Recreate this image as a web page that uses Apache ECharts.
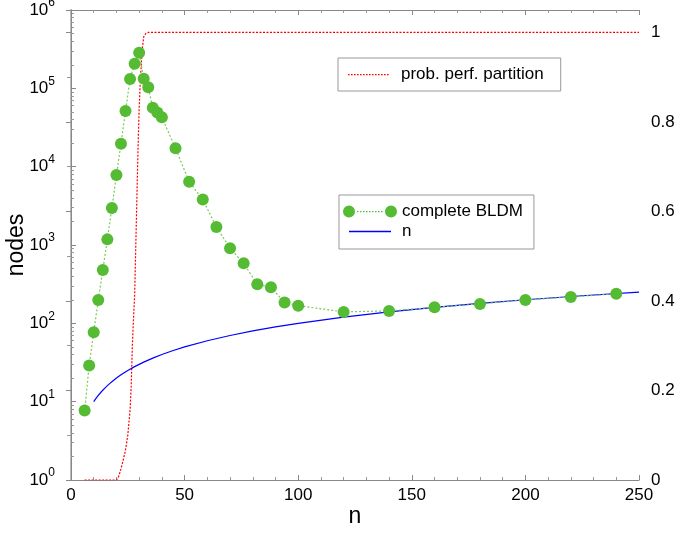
<!DOCTYPE html>
<html><head><meta charset="utf-8">
<script src="https://cdn.jsdelivr.net/npm/echarts@6/dist/echarts.min.js"></script>
<style>html,body{margin:0;padding:0;background:#fff}#c{width:676px;height:544px}</style>
</head><body><div id="c"></div>
<script>
// complete BLDM: n and node counts
const bldmN = [6,8,10,12,14,16,18,20,22,24,26,28,30,32,34,36,38,40,46,52,58,64,70,76,82,88,94,100,120,140,160,180,200,220,240];
const bldmNodes = [7.7,29,77,198,480,1180,2960,7830,19600,51500,132000,206000,285000,133000,103000,56600,49000,42700,17200,6430,3800,1700,908,584,315,288,185,168,140,144,160,177,199,217,239];
// reference line "n"
const lineN = [10,11,12,13,14,15,16,17,18,20,22,25,28,32,36,40,45,50,60,70,80,90,100,120,140,160,180,200,225,250];
const lineNodes = [10,11,12,13,14,15,16,17,18,20,22,25,28,32,36,40,45,50,60,70,80,90,100,120,140,160,180,200,225,250];
// probability of perfect partition (right axis)
const probN = [6,8,10,12,14,16,18,20,21,22,23,24,25,26,26.5,27,27.5,28,28.5,29,29.5,30,30.5,31,31.5,32,33,34,50,100,150,200,250];
const probP = [0,0,0,0,0,0,0,0,0.008,0.025,0.045,0.067,0.1,0.156,0.21,0.3,0.36,0.41,0.52,0.63,0.74,0.83,0.89,0.935,0.968,0.99,0.998,1,1,1,1,1,1];
// tick labels
const xTicks = [0,50,100,150,200,250];
const rightTicks = [0,0.2,0.4,0.6,0.8,1];

const FONT = "'Liberation Sans', Arial, Helvetica, sans-serif";

function dashPath(x0, x1, y, w, gap) {
  let s = '';
  for (let x = x0; x + w <= x1 + 0.01; x += w + gap) {
    s += 'M' + x + ',' + (y - 0.5) + 'h' + w + 'v1.2h-' + w + 'z';
  }
  return s;
}
const iconRed = 'path://M0,0M42,12' + dashPath(0, 42, 6, 1.6, 1.4);
const iconGreen = 'path://M0,6a6,6 0 1,0 12,0a6,6 0 1,0 -12,0z M42,6a6,6 0 1,0 12,0a6,6 0 1,0 -12,0z' + dashPath(14, 40, 6, 1.5, 1.5);
const iconBlue = 'path://M0,0M54,12M6,5.3h42v1.4h-42z';

const chart = echarts.init(document.getElementById('c'), null, {renderer: 'canvas'});
chart.setOption({
  animation: false,
  backgroundColor: '#fff',
  textStyle: {fontFamily: FONT},
  grid: {left: 71, right: 37, top: 10, bottom: 64, containLabel: false, outerBoundsMode: 'none'},
  legend: [
    {
      data: [{name: 'prob. perf. partition', icon: iconRed}],
      left: 338, top: 58, orient: 'vertical', selectedMode: false,
      itemWidth: 42, itemHeight: 12,
      padding: [8, 17, 8, 10],
      borderColor: '#999', borderWidth: 1,
      textStyle: {fontSize: 17, fontFamily: FONT, color: '#000', padding: [0, 0, 0, 6]}
    },
    {
      data: [{name: 'complete BLDM', icon: iconGreen}, {name: 'n', icon: iconBlue, itemStyle: {color: '#0000ff'}}],
      left: 339, top: 195, orient: 'vertical', selectedMode: false,
      itemWidth: 54, itemHeight: 12, itemGap: 3,
      padding: [8, 11, 9, 4],
      borderColor: '#999', borderWidth: 1,
      textStyle: {fontSize: 17, fontFamily: FONT, color: '#000'}
    }
  ],
  xAxis: [
    {
      type: 'value', position: 'bottom', min: 0, max: 250, interval: 50,
      name: 'n', nameLocation: 'middle', nameGap: 25, nameMoveOverlap: false,
      nameTextStyle: {fontSize: 23, color: '#000', fontFamily: FONT},
      axisLine: {show: true, lineStyle: {color: '#888', width: 1}},
      axisTick: {show: true, inside: true, length: 5, lineStyle: {color: '#888'}},
      minorTick: {show: true, splitNumber: 5, length: 3, lineStyle: {color: '#999'}},
      axisLabel: {fontSize: 17, color: '#000', margin: 7, fontFamily: FONT,
        formatter: v => xTicks.indexOf(v) >= 0 ? String(v) : ''},
      splitLine: {show: false}
    },
    {
      type: 'value', position: 'top', min: 0, max: 250, interval: 50,
      axisLine: {show: true, lineStyle: {color: '#888', width: 1}},
      axisTick: {show: true, inside: true, length: 5, lineStyle: {color: '#888'}},
      minorTick: {show: true, splitNumber: 5, length: 3, lineStyle: {color: '#999'}},
      axisLabel: {show: false},
      splitLine: {show: false}
    }
  ],
  yAxis: [
    {
      type: 'log', logBase: 10, min: 1, max: 1000000, position: 'left',
      name: 'nodes', nameLocation: 'middle', nameGap: 43, nameRotate: 90, nameMoveOverlap: false,
      nameTextStyle: {fontSize: 23, color: '#000', fontFamily: FONT},
      axisLine: {show: true, lineStyle: {color: '#bbb', width: 2}},
      axisTick: {show: true, inside: true, length: 5, lineStyle: {color: '#888'}},
      minorTick: {show: true, splitNumber: 9, length: 3, lineStyle: {color: '#999'}},
      axisLabel: {
        margin: 16, color: '#000', fontFamily: FONT,
        formatter: v => '{b|10}{s|' + Math.round(Math.log10(v)) + '}',
        rich: {
          b: {fontSize: 17, lineHeight: 26, color: '#000', fontFamily: FONT},
          s: {fontSize: 12, verticalAlign: 'top', color: '#000', fontFamily: FONT}
        }
      },
      splitLine: {show: false}
    },
    {
      type: 'value', min: 0, max: 1.05, interval: 0.2, position: 'right',
      axisLine: {show: true, lineStyle: {color: '#888', width: 1}},
      axisTick: {show: true, inside: true, length: 5, lineStyle: {color: '#888'}},
      minorTick: {show: true, splitNumber: 2, length: 4, lineStyle: {color: '#999'}},
      axisLabel: {fontSize: 17, color: '#000', margin: 12, fontFamily: FONT, showMaxLabel: false,
        formatter: v => rightTicks.some(t => Math.abs(t - v) < 1e-9) ? String(+v.toFixed(1)) : ''},
      splitLine: {show: false}
    }
  ],
  series: [
    {
      name: 'prob. perf. partition', type: 'line', xAxisIndex: 0, yAxisIndex: 1,
      data: probN.map((n, i) => [n, probP[i]]),
      symbol: 'none', color: '#ff0000',
      itemStyle: {color: '#ff0000'},
      lineStyle: {color: '#ff0000', width: 1.2, type: [2, 1.5]},
      z: 2
    },
    {
      name: 'n', type: 'line', xAxisIndex: 0, yAxisIndex: 0,
      data: lineN.map((n, i) => [n, lineNodes[i]]),
      symbol: 'none', smooth: false, color: '#0000ff',
      itemStyle: {color: '#0000ff'},
      lineStyle: {color: '#0000ff', width: 1.2},
      z: 3
    },
    {
      name: 'complete BLDM', type: 'line', xAxisIndex: 0, yAxisIndex: 0,
      data: bldmN.map((n, i) => [n, bldmNodes[i]]),
      symbol: 'circle', symbolSize: 12, showSymbol: true, color: '#55bb33',
      itemStyle: {color: '#55bb33', borderWidth: 0},
      lineStyle: {color: '#77cc55', width: 1.2, type: [2, 2]},
      z: 4
    }
  ]
});
</script>
</body></html>
